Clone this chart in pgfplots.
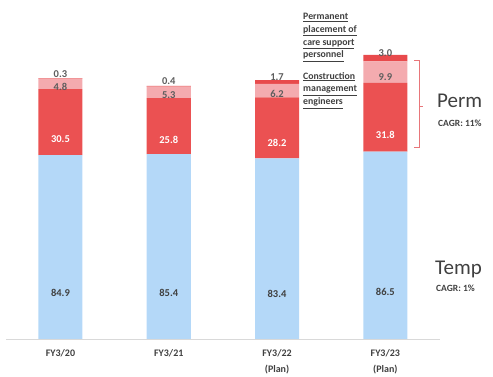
\documentclass[border=0pt]{standalone}
\usepackage{pgfplots}
\pgfplotsset{compat=1.18}
\usepackage{fontspec}
\setmainfont{Carlito}
\definecolor{tempc}{HTML}{B4D8F8}
\definecolor{permc}{HTML}{EB5152}
\definecolor{pinkc}{HTML}{F4ABAF}
\definecolor{topc}{HTML}{E84A4C}
\definecolor{txt}{HTML}{404040}
\definecolor{brk}{HTML}{E8767A}
\begin{document}
\begin{tikzpicture}[x=1pt,y=1pt]
\useasboundingbox (0,0) rectangle (493,377);
\begin{axis}[
  at={(6.3pt,38pt)}, anchor=south west,
  scale only axis, width=433.2pt, height=303.2pt,
  xmin=-0.5, xmax=3.5, ymin=0, ymax=140,
  ybar stacked, bar width=44pt,
  axis y line=none, axis x line*=bottom,
  x axis line style={draw=black!15, line width=0.8pt, -},
  xtick={0,1,2,3}, major tick length=0pt,
  xticklabels={FY3/20, FY3/21, {FY3/22\\(Plan)}, {FY3/23\\(Plan)}},
  xticklabel style={align=center, font=\bfseries\fontsize{10}{15.5}\selectfont, text=txt, anchor=north, yshift=-7pt},
  point meta=explicit symbolic,
  visualization depends on=rawy \as \rawy,
  clip=false,
]
\addplot[fill=tempc, draw=none, nodes near coords,
  every node near coord/.append style={anchor=center, font=\bfseries\fontsize{10.5}{12}\selectfont, text=txt, yshift=-\rawy*0.54143pt}]
  coordinates {(0,84.9)[84.9] (1,85.4)[85.4] (2,83.4)[83.4] (3,86.5)[86.5]};
\addplot[fill=permc, draw=none, nodes near coords,
  every node near coord/.append style={anchor=center, font=\bfseries\fontsize{10.5}{12}\selectfont, text=white, yshift=-\rawy*0.54143pt}]
  coordinates {(0,30.5)[30.5] (1,25.8)[25.8] (2,28.2)[28.2] (3,31.8)[31.8]};
\addplot[fill=pinkc, draw=none, nodes near coords,
  every node near coord/.append style={anchor=center, font=\bfseries\fontsize{10.5}{12}\selectfont, text=txt!85, yshift=-\rawy*0.54143pt}]
  coordinates {(0,4.8)[4.8] (1,5.3)[5.3] (2,6.2)[6.2] (3,9.9)[9.9]};
\addplot[fill=topc, draw=none, nodes near coords,
  every node near coord/.append style={anchor=south, inner sep=1pt, font=\bfseries\fontsize{10.5}{12}\selectfont, text=txt!85}]
  coordinates {(0,0.3)[0.3] (1,0.4)[0.4] (2,1.7)[1.7] (3,3.0)[3.0]};
\end{axis}
% bracket
\draw[brk, line width=0.8pt] (414,377-60) -- (419,377-60) -- (419,377-147) -- (414,377-147);
\draw[brk, line width=0.8pt] (419,377-106) -- (423,377-106);
% annotations
\node[anchor=north west, align=left, inner sep=0pt, text=txt, font=\bfseries\fontsize{9.8}{12.8}\selectfont]
  at (303,377-13) {\underline{Permanent}\\\underline{placement of}\\\underline{care support}\\\underline{personnel}};
\node[anchor=north west, align=left, inner sep=0pt, text=txt, font=\bfseries\fontsize{9.8}{12.8}\selectfont]
  at (303,377-72) {\underline{Construction}\\\underline{management}\\\underline{engineers}};
\node[anchor=base west, inner sep=0pt, text=txt, font=\fontsize{21}{24}\selectfont] at (437,377-108) {Perm};
\node[anchor=base west, inner sep=0pt, text=txt, font=\bfseries\fontsize{9.5}{11}\selectfont] at (438,377-127) {CAGR: 11\%};
\node[anchor=base west, inner sep=0pt, text=txt, font=\fontsize{21}{24}\selectfont] at (435,377-275) {Temp};
\node[anchor=base west, inner sep=0pt, text=txt, font=\bfseries\fontsize{9.5}{11}\selectfont] at (436,377-292) {CAGR: 1\%};
\end{tikzpicture}
\end{document}
